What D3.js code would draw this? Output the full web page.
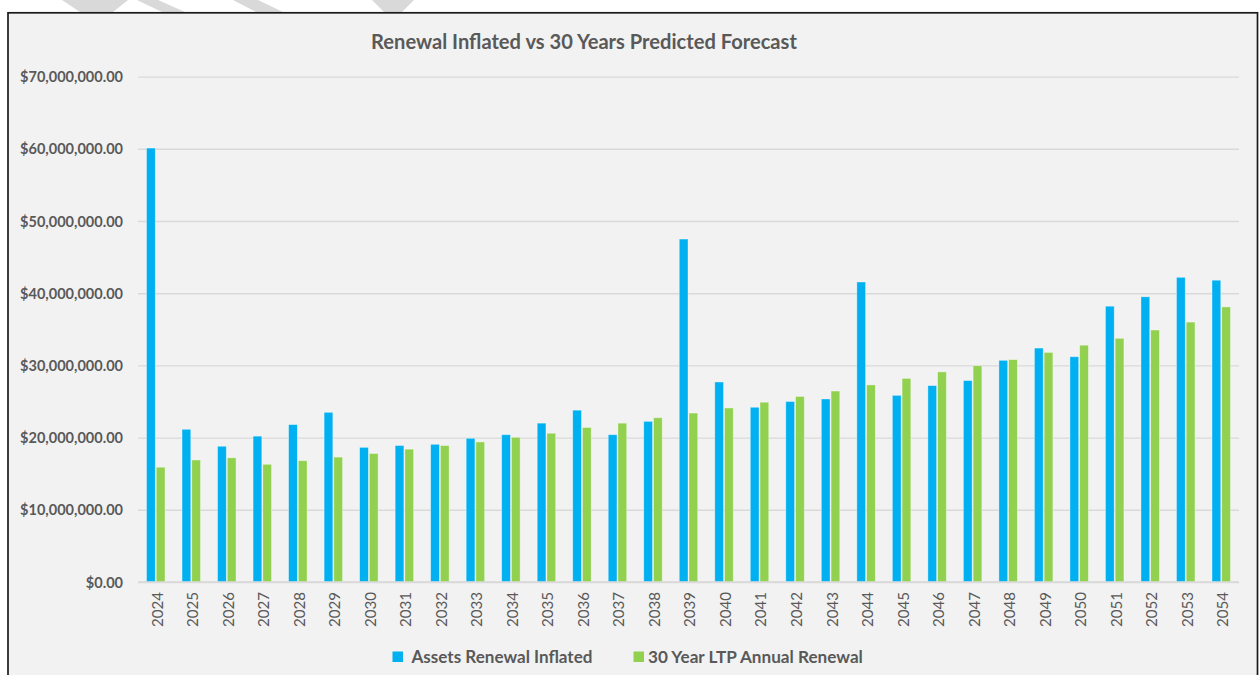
<!DOCTYPE html>
<html>
<head>
<meta charset="utf-8">
<script src="https://cdn.jsdelivr.net/npm/d3@7"></script>
<style>
  html, body { margin: 0; padding: 0; background: #ffffff; }
  svg { display: block; }
  text { font-family: Lato, "Open Sans", sans-serif; fill: #595959; }
</style>
</head>
<body>
<svg id="chart" width="1260" height="675"></svg>
<script>
// ---- data ----
const years = ["2024","2025","2026","2027","2028","2029","2030","2031","2032","2033","2034","2035","2036","2037","2038","2039","2040","2041","2042","2043","2044","2045","2046","2047","2048","2049","2050","2051","2052","2053","2054"];
const assetsRenewalInflated = [60.1,21.15,18.8,20.2,21.8,23.5,18.65,18.9,19.07,19.9,20.4,22.0,23.8,20.4,22.25,47.5,27.7,24.2,25.0,25.35,41.55,25.85,27.2,27.9,30.7,32.4,31.2,38.2,39.5,42.2,41.8].map(v => v * 1e6);
const ltpAnnualRenewal = [15.9,16.9,17.2,16.3,16.8,17.3,17.8,18.4,18.9,19.4,20.04,20.6,21.4,22.0,22.75,23.4,24.1,24.9,25.7,26.45,27.3,28.2,29.1,29.96,30.8,31.8,32.8,33.75,34.9,36.0,38.1].map(v => v * 1e6);
const yTicks = [0,10e6,20e6,30e6,40e6,50e6,60e6,70e6];
const seriesNames = ["Assets Renewal Inflated", "30 Year LTP Annual Renewal"];
const seriesColors = ["#00b0f0", "#92d050"];
const title = "Renewal Inflated vs 30 Years Predicted Forecast";

const svg = d3.select("#chart");

// scale a text element's font size so its rendered width matches a target width
function fitWidth(node, target, base) {
  const w = node.getComputedTextLength();
  if (w > 0) d3.select(node).style("font-size", (base * target / w).toFixed(2) + "px");
}

// decorative watermark fragments above the panel
const deco = [
  [[62,0],[128,0],[113,12],[80,12]],
  [[137,0],[158,0],[185,12],[162,12]],
  [[233,0],[258,0],[283,12],[256,12]],
  [[372,0],[414,0],[402,12],[384,12]]
];
svg.selectAll("polygon.deco").data(deco).join("polygon")
  .attr("class","deco")
  .attr("points", d => d.map(p => p.join(",")).join(" "))
  .attr("fill", "#d9d9d9");

// panel
svg.append("rect")
  .attr("x", 8).attr("y", 12.8)
  .attr("width", 1249.5).attr("height", 680)
  .attr("fill", "#f2f2f2")
  .attr("stroke", "#1a1a1a").attr("stroke-width", 1.7);

const plot = { left: 138, right: 1239, top: 76.6, bottom: 582 };

const x = d3.scaleBand().domain(years)
  .range([plot.left, plot.right])
  .paddingInner(0.48).paddingOuter(0.24);
const xs = d3.scaleBand().domain([0,1])
  .range([0, x.bandwidth()]).paddingInner(0.1);
const y = d3.scaleLinear().domain([0, 70e6]).range([plot.bottom, plot.top]);

// gridlines
svg.append("g")
  .attr("transform", `translate(${plot.left},0)`)
  .call(d3.axisLeft(y).tickValues(yTicks).tickSize(-(plot.right - plot.left)).tickFormat(""))
  .call(g => g.select(".domain").remove())
  .call(g => g.selectAll(".tick line").attr("stroke", "#d9d9d9").attr("stroke-width", 1.4));

// y labels
const fmt = d3.format(",.2f");
const yAxis = svg.append("g")
  .attr("transform", `translate(123,0)`)
  .call(d3.axisLeft(y).tickValues(yTicks).tickSize(0).tickPadding(0).tickFormat(d => "$" + fmt(d)))
  .call(g => g.select(".domain").remove());
yAxis.selectAll("text")
  .style("font-family", "Lato, sans-serif")
  .style("font-weight", "700")
  .style("font-size", "14px")
  .attr("dy", "0.35em")
  .attr("fill", "#595959");
{
  const ref = yAxis.selectAll("text").filter(d => d === 70e6).node();
  const w = ref.getComputedTextLength();
  yAxis.selectAll("text").style("font-size", (14 * 103 / w).toFixed(2) + "px");
}

// bars
const series = [assetsRenewalInflated, ltpAnnualRenewal];
series.forEach((vals, si) => {
  svg.append("g").selectAll("rect").data(vals).join("rect")
    .attr("x", (d, i) => x(years[i]) + xs(si))
    .attr("y", d => y(d))
    .attr("width", xs.bandwidth())
    .attr("height", d => y(0) - y(d))
    .attr("fill", seriesColors[si])
    .attr("stroke", "#ffffff").attr("stroke-opacity", 0.45).attr("stroke-width", 0.8);
});

// x axis line
svg.append("line")
  .attr("x1", plot.left).attr("x2", plot.right)
  .attr("y1", y(0)).attr("y2", y(0))
  .attr("stroke", "#d9d9d9").attr("stroke-width", 1.4);

// x labels
const xAxis = svg.append("g")
  .attr("transform", `translate(0,${plot.bottom})`)
  .call(d3.axisBottom(x).tickSize(0).tickPadding(0))
  .call(g => g.select(".domain").remove());
xAxis.selectAll("text")
  .attr("transform", "rotate(-90)")
  .attr("text-anchor", "end")
  .attr("x", -10).attr("y", 1.5).attr("dy", "0.36em")
  .style("font-family", "Lato, sans-serif")
  .style("font-size", "14px")
  .attr("fill", "#595959");
{
  const w = xAxis.select("text").node().getComputedTextLength();
  xAxis.selectAll("text").style("font-size", (14 * 35 / w).toFixed(2) + "px");
}

// title
const t = svg.append("text")
  .attr("x", 584).attr("y", 49)
  .attr("text-anchor", "middle")
  .style("font-size", "18px").style("font-weight", "700")
  .text(title);
fitWidth(t.node(), 426, 18);

// legend
const legendItems = [
  { name: seriesNames[0], color: seriesColors[0], sx: 392.5, tx: 411.5, w: 181 },
  { name: seriesNames[1], color: seriesColors[1], sx: 633.5, tx: 648, w: 215 }
];
const lg = svg.append("g");
legendItems.forEach(it => {
  lg.append("rect").attr("x", it.sx).attr("y", 651.5).attr("width", 10.5).attr("height", 10.5).attr("fill", it.color);
  const tx = lg.append("text").attr("x", it.tx).attr("y", 663)
    .style("font-size", "15px").style("font-weight", "700")
    .text(it.name);
  fitWidth(tx.node(), it.w, 15);
});
</script>
</body>
</html>
